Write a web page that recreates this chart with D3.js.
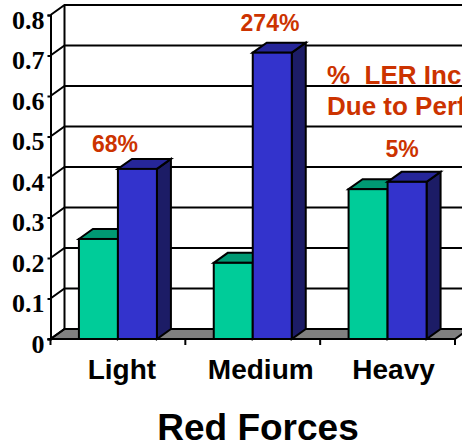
<!DOCTYPE html>
<html>
<head>
<meta charset="utf-8">
<script src="https://cdn.jsdelivr.net/npm/d3@7"></script>
<style>
html,body{margin:0;padding:0;background:#fff;overflow:hidden}
svg{display:block}
</style>
</head>
<body>
<script>
const categories = ["Light", "Medium", "Heavy"];
const seriesNames = ["Baseline", "Perfect"];
const baselineValues = [0.247, 0.188, 0.37];
const perfectValues = [0.42, 0.707, 0.388];
const increaseLabels = ["68%", "274%", "5%"];
const yTicks = [0, 0.1, 0.2, 0.3, 0.4, 0.5, 0.6, 0.7, 0.8];
const noteLines = ["%  LER Inc", "Due to Perf"];
const xTitle = "Red Forces";

const W = 462, H = 444;
const dx = 14, dy = -10;
const colors = {
  Baseline: {front: "#00CC99", top: "#009973", side: "#006B50"},
  Perfect: {front: "#3333CC", top: "#262699", side: "#1C1C66"}
};
const ink = "#000", orange = "#CC3300";

const svg = d3.select("body").append("svg").attr("width", W).attr("height", H);

const y = d3.scaleLinear().domain([0, 0.8]).range([339, 15]);
const x = d3.scaleBand().domain(categories).range([50.5, 455]).paddingInner(0).paddingOuter(0);
const s = d3.scaleBand().domain(seriesNames).range([0, 78]);
const groupOffset = (x.bandwidth() - 78) / 2;

// floor
const xL = x.range()[0], xR = x.range()[1];
svg.append("polygon")
  .attr("points", [[xL, y(0)], [xL + dx, y(0) + dy], [xR + dx, y(0) + dy], [xR, y(0)]].map(p => p.join(",")).join(" "))
  .attr("fill", "#808080").attr("stroke", ink).attr("stroke-width", 2);

// gridlines: side wall + back wall
const grid = svg.append("g").attr("fill", "none").attr("stroke", ink).attr("stroke-width", 2);
yTicks.forEach(t => {
  grid.append("polyline")
    .attr("points", [[xL, y(t)], [xL + dx, y(t) + dy], [W + 10, y(t) + dy]].map(p => p.join(",")).join(" "));
});
grid.append("line").attr("x1", xL + dx).attr("x2", xL + dx).attr("y1", y(0) + dy).attr("y2", y(0.8) + dy);

// bars
const data = [];
categories.forEach((c, i) => {
  data.push({c, k: "Baseline", v: baselineValues[i]});
  data.push({c, k: "Perfect", v: perfectValues[i]});
});
const bars = svg.append("g").attr("stroke", ink).attr("stroke-width", 2).attr("stroke-linejoin", "miter");
bars.selectAll("g").data(data).join("g").each(function (d) {
  const g = d3.select(this);
  const x0 = x(d.c) + groupOffset + s(d.k), x1 = x0 + s.bandwidth();
  const yT = y(d.v), yB = y(0);
  const pts = a => a.map(p => p.join(",")).join(" ");
  g.append("polygon").attr("fill", colors[d.k].side)
    .attr("points", pts([[x1, yT], [x1 + dx, yT + dy], [x1 + dx, yB + dy], [x1, yB]]));
  g.append("polygon").attr("fill", colors[d.k].top)
    .attr("points", pts([[x0, yT], [x0 + dx, yT + dy], [x1 + dx, yT + dy], [x1, yT]]));
  g.append("rect").attr("fill", colors[d.k].front)
    .attr("x", x0).attr("y", yT).attr("width", x1 - x0).attr("height", yB - yT);
});

// y axis
const yAxis = svg.append("g").attr("transform", `translate(${xL},0)`)
  .call(d3.axisLeft(y).tickValues(yTicks).tickSize(3).tickPadding(3).tickFormat(d => d === 0 ? "0" : d3.format(".1f")(d)));
yAxis.selectAll("path,line").attr("stroke", ink).attr("stroke-width", 2);
yAxis.selectAll("text").attr("font-family", "'Liberation Serif'").attr("font-weight", "bold")
  .attr("font-size", 26).attr("fill", ink).attr("dy", "0.5em");

// x axis
const xTickVals = d3.range(0, 4).map(i => xL + i * x.bandwidth());
const xAxis = svg.append("g").attr("stroke", ink).attr("stroke-width", 2);
xAxis.append("line").attr("x1", xL - 3).attr("x2", xR).attr("y1", y(0)).attr("y2", y(0));
xAxis.selectAll(".t").data(xTickVals).join("line").attr("class", "t")
  .attr("x1", d => d).attr("x2", d => d).attr("y1", y(0)).attr("y2", y(0) + 6);

const catShift = [4, 8, 6];
svg.append("g").selectAll("text").data(categories).join("text")
  .attr("x", (d, i) => x(d) + x.bandwidth() / 2 + catShift[i]).attr("y", 379)
  .attr("text-anchor", "middle").attr("font-family", "'Liberation Sans'").attr("font-weight", "bold")
  .attr("font-size", 28).attr("fill", ink).text(d => d);

// % labels
const labelPos = [[115, 152], [270, 30.5], [402, 156.5]];
svg.append("g").selectAll("text").data(increaseLabels).join("text")
  .attr("x", (d, i) => labelPos[i][0]).attr("y", (d, i) => labelPos[i][1])
  .attr("text-anchor", "middle").attr("font-family", "'Liberation Sans'").attr("font-weight", "bold")
  .attr("font-size", 23).attr("fill", orange).text(d => d);

// note
svg.append("g").selectAll("text").data(noteLines).join("text")
  .attr("x", 327).attr("y", (d, i) => 84 + i * 31)
  .attr("font-family", "'Liberation Sans'").attr("font-weight", "bold")
  .attr("font-size", 26).attr("fill", orange).style("white-space", "pre").text(d => d);

// title
svg.append("text").attr("x", 258).attr("y", 440).attr("text-anchor", "middle")
  .attr("font-family", "'Liberation Sans'").attr("font-weight", "bold").attr("font-size", 37)
  .attr("fill", ink).text(xTitle);
</script>
</body>
</html>
